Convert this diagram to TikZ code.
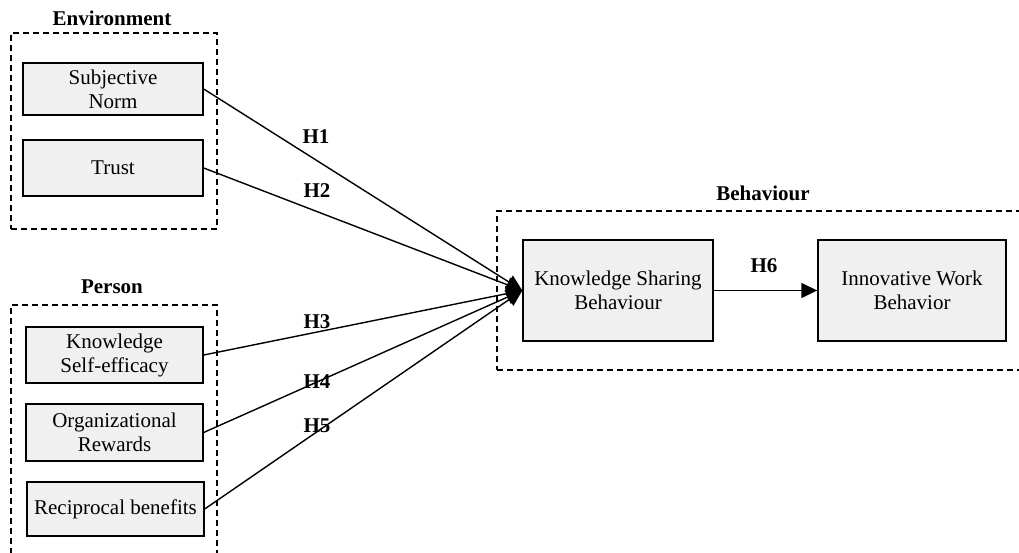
\documentclass[tikz,border=0pt]{standalone}
\usepackage{fontspec}
\setmainfont{Liberation Serif}
\usetikzlibrary{positioning, fit, arrows.meta}

\begin{document}
\begin{tikzpicture}[x=1pt, y=-1pt, >={Triangle[length=16pt,width=15pt]},
		box/.style={draw, inner sep=0pt, fill=mgray, line width=1.4pt},
		group/.style={draw, inner sep=0pt, dash pattern=on 6pt off 4pt, line width=1.3pt},
		link/.style={->, line width=1.4pt}]
		\definecolor{mgray}{RGB}{240,240,240}
		\fontsize{21}{24}\selectfont
		\useasboundingbox (0,0) rectangle (1019,553);

		% Environment
		\node[group, fit={(11,33) (217,229)}] (env) {};
		\node[anchor=center, font=\bfseries] (envl) at (112, 18) {Environment};
		\node[box, fit={(23,63) (203,115)},
			label={[align=center]center:{Subjective\\Norm}}
			] (sn) {};
		\node[box, fit={(23,140) (203,196)},
			label=center:{Trust}
			] (tr) {};

		% Person
		\node[group, fit={(11,305) (217,570)}] (per) {};
		\node[anchor=center, font=\bfseries] (perl) at (112, 287) {Person};
		\node[box, fit={(26,327) (203,383)},
			label={[align=center]center:{Knowledge\\Self-efficacy}}
			] (kse) {};
		\node[box, fit={(26,404) (203,461)},
			label={[align=center]center:{Organizational\\Rewards}}
			] (orw) {};
		\node[box, fit={(27,482) (204,536)},
			label=center:{Reciprocal benefits}
			] (rb) {};

		% Behaviour
		\node[group, fit={(497,211) (1040,370)}] (beh) {};
		\node[anchor=center, font=\bfseries] (behl) at (763, 193) {Behaviour};
		\node[box, fit={(523,240) (713,341)},
			label={[align=center]center:{Knowledge Sharing\\Behaviour}}
			] (ksb) {};
		\node[box, fit={(818,240) (1006,341)},
			label={[align=center]center:{Innovative Work\\Behavior}}
			] (iwb) {};

		% Edges
		\draw[link] (sn.east) -- (ksb.west);
		\draw[link] (tr.east) -- (ksb.west);
		\draw[link] (kse.east) -- (ksb.west);
		\draw[link] (orw.east) -- (ksb.west);
		\draw[link] (rb.east) -- (ksb.west);
		\draw[link] (ksb.east) -- (iwb.west);

		% Hypotheses
		\node[anchor=center, font=\bfseries] (h1) at (316, 137) {H1};
		\node[anchor=center, font=\bfseries] (h2) at (317, 191) {H2};
		\node[anchor=center, font=\bfseries] (h3) at (317, 322) {H3};
		\node[anchor=center, font=\bfseries] (h4) at (317, 382) {H4};
		\node[anchor=center, font=\bfseries] (h5) at (317, 426) {H5};
		\node[anchor=center, font=\bfseries] (h6) at (764, 266) {H6};
	\end{tikzpicture}
\end{document}
